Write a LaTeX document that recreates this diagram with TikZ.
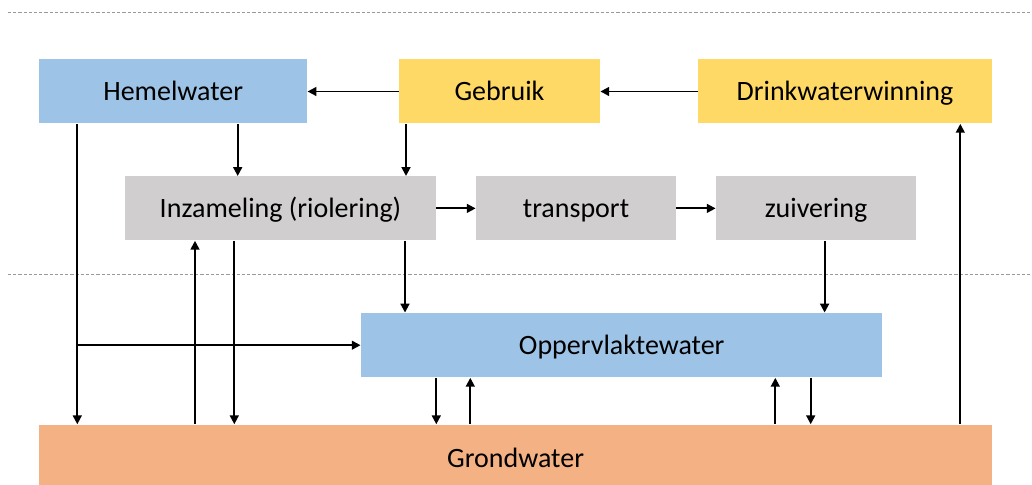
\documentclass[tikz,border=0pt]{standalone}
\usepackage{fontspec}
\setmainfont{Carlito}
\usetikzlibrary{arrows.meta}
\definecolor{hemelblue}{HTML}{9DC3E6}
\definecolor{usegold}{HTML}{FFD966}
\definecolor{procgray}{HTML}{D0CECE}
\definecolor{soilorange}{HTML}{F4B183}
\tikzset{
  wbox/.style={fill=hemelblue, inner sep=0pt, align=center,
    font=\fontsize{14}{16}\selectfont, minimum height=32pt,
    text height=9pt, text depth=0pt},
  ubox/.style={wbox, fill=usegold},
  pbox/.style={wbox, fill=procgray},
  gbox/.style={wbox, fill=soilorange, text height=13pt},
  flowarr/.style={-{Triangle[length=4.4pt,width=4.4pt]}, line width=0.95pt},
  sepline/.style={draw=gray!80, line width=0.4pt, dash pattern=on 1.6pt off 1pt},
}

\begin{document}
\begin{tikzpicture}[x=0.5pt, y=-0.5pt]
  \useasboundingbox (0,0) rectangle (1032,485);
  % Separators
  \draw[sepline] (8,12.7) -- (1032,12.7);
  \draw[sepline] (8,274.7) -- (1032,274.7);
  % Row 0: sources and use
  \node[wbox, minimum width=134pt]   at (173.2,91.5) (Hemel)   {Hemelwater};
  \node[ubox, minimum width=100.5pt] at (499.5,91.5) (Gebruik) {Gebruik};
  \node[ubox, minimum width=147pt]   at (845,91.5)   (Drink)   {Drinkwaterwinning};
  % Row 1: sewer chain
  \node[pbox, minimum width=155.5pt] at (280.5,208.4) (Inz)   {Inzameling (riolering)};
  \node[pbox, minimum width=100pt]   at (576,208.4)   (Trans) {transport};
  \node[pbox, minimum width=100pt]   at (816,208.4)   (Zuiv)  {zuivering};
  % Row 2: surface water
  \node[wbox, minimum width=260.75pt, minimum height=32.25pt] at (621.7,345.2) (Opp) {Oppervlaktewater};
  % Row 3: groundwater
  \node[gbox, minimum width=476.35pt, minimum height=30.15pt] at (515.6,454.8) (Grond) {Grondwater};
  % Columns for vertical edges
  \coordinate (xrain)  at (77.3,0);
  \coordinate (xinf)   at (195,0);
  \coordinate (xleak)  at (234.3,0);
  \coordinate (xhin)   at (237.7,0);
  \coordinate (xout)   at (405,0);
  \coordinate (xgin)   at (406,0);
  \coordinate (xodn)   at (436.3,0);
  \coordinate (xoup)   at (470.3,0);
  \coordinate (xrup)   at (775.3,0);
  \coordinate (xrdn)   at (810.7,0);
  \coordinate (xeff)   at (824.6,0);
  \coordinate (xwin)   at (960.3,0);
  \coordinate (split)  at (77.3,345.2);
  % Edges
  \draw[flowarr] (Gebruik) -- (Hemel);
  \draw[flowarr] (Drink)   -- (Gebruik);
  \draw[flowarr] (Inz)     -- (Trans);
  \draw[flowarr] (Trans)   -- (Zuiv);
  \draw[flowarr] (Hemel.south -| xrain) -- (Grond.north -| xrain);
  \draw[flowarr] (split) -- (Opp.west);
  \draw[flowarr] (Hemel.south -| xhin)  -- (Inz.north -| xhin);
  \draw[flowarr] (Gebruik.south -| xgin) -- (Inz.north -| xgin);
  \draw[flowarr] (Grond.north -| xinf)  -- (Inz.south -| xinf);
  \draw[flowarr] (Inz.south -| xleak)   -- (Grond.north -| xleak);
  \draw[flowarr] (Inz.south -| xout)    -- (Opp.north -| xout);
  \draw[flowarr] (Zuiv.south -| xeff)   -- (Opp.north -| xeff);
  \draw[flowarr] (Opp.south -| xodn)    -- (Grond.north -| xodn);
  \draw[flowarr] (Grond.north -| xoup)  -- (Opp.south -| xoup);
  \draw[flowarr] (Grond.north -| xrup)  -- (Opp.south -| xrup);
  \draw[flowarr] (Opp.south -| xrdn)    -- (Grond.north -| xrdn);
  \draw[flowarr] (Grond.north -| xwin)  -- (Drink.south -| xwin);
\end{tikzpicture}
\end{document}
